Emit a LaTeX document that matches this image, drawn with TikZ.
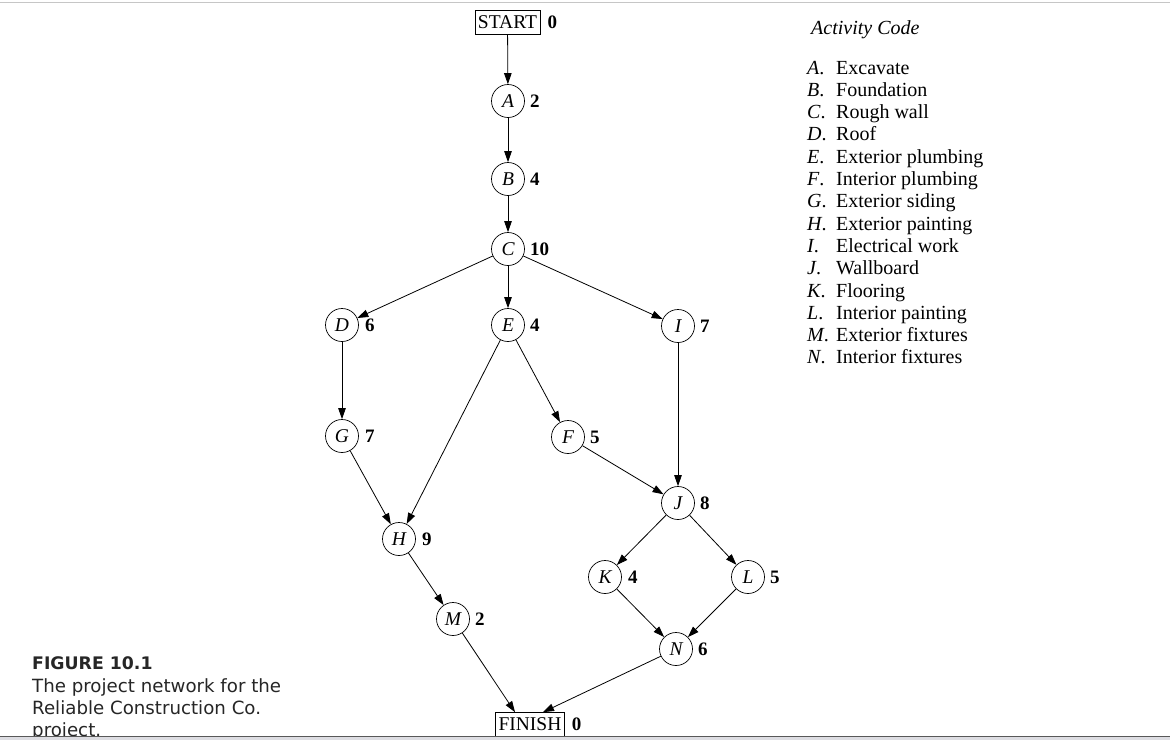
\documentclass[tikz,border=0pt]{standalone}
\usepackage{fontspec}
\setmainfont{Liberation Serif}
\newfontfamily\capfont{DejaVu Sans}
\usetikzlibrary{arrows.meta}
\begin{document}
\begin{tikzpicture}[x=1pt,y=-1pt,
  act/.style={circle, draw, line width=0.7pt, minimum size=33pt, inner sep=0pt,
    font=\fontsize{19.5}{19.5}\selectfont\itshape},
  term/.style={draw, line width=0.7pt, inner xsep=3pt, inner ysep=0pt, minimum height=24pt,
    font=\fontsize{19.5}{19.5}\selectfont},
  num/.style={font=\fontsize{19}{19}\selectfont\bfseries, inner sep=1pt},
  arr/.style={line width=0.8pt, -{Triangle[length=11pt,width=7.5pt]}},
  leg/.style={anchor=base west, inner sep=0pt, font=\fontsize{20}{20}\selectfont},
  legl/.style={leg, font=\fontsize{20}{20}\selectfont\itshape},
  captxt/.style={anchor=base west, inner sep=0pt, font=\capfont\fontsize{18.2}{18.2}\selectfont, text=black!85},
  every label/.style={num},
  label distance=4pt
]
\useasboundingbox (0,0) rectangle (1170,740);
\fill[white] (0,0) rectangle (1170,740);
\draw[gray!45, line width=1.5pt] (0,2.5) -- (1170,2.5);

% nodes
\node[term, label={[label distance=6pt]0:0}] (START) at (507.5,22.5) {START};
\node[act, label=0:2] (A) at (508,101) {A};
\node[act, label=0:4] (B) at (508,179) {B};
\node[act, label=0:10] (C) at (508,249) {C};
\node[act, label={[label distance=5pt]0:6}] (D) at (342,325) {D};
\node[act, label=0:4] (E) at (508,325) {E};
\node[act, label=0:7] (I) at (678,326) {I};
\node[act, label={[label distance=5pt]0:7}] (G) at (342,436) {G};
\node[act, label=0:5] (F) at (568,437) {F};
\node[act, label=0:8] (J) at (678,503) {J};
\node[act, label={[label distance=5pt]0:9}] (H) at (399,539) {H};
\node[act, label={[label distance=5pt]0:4}] (K) at (605,577) {K};
\node[act, label=0:5] (L) at (748,577) {L};
\node[act, label=0:2] (M) at (453,619) {M};
\node[act, label=0:6] (N) at (676,649) {N};
\node[term, label={[label distance=6pt]0:0}] (FINISH) at (530,724.5) {FINISH};

% connectors
\draw[arr] (START) -- (A);
\draw[arr] (A) -- (B);
\draw[arr] (B) -- (C);
\draw[arr] (C) -- (D);
\draw[arr] (C) -- (E);
\draw[arr] (C) -- (I);
\draw[arr] (D) -- (G);
\draw[arr] (E) -- (H);
\draw[arr] (E) -- (F);
\draw[arr] (I) -- (J);
\draw[arr] (G) -- (H);
\draw[arr] (F) -- (J);
\draw[arr] (H) -- (M);
\draw[arr] (J) -- (K);
\draw[arr] (J) -- (L);
\draw[arr] (K) -- (N);
\draw[arr] (L) -- (N);
\draw[arr] (M) -- ([xshift=-15pt]FINISH.north);
\draw[arr] (N) -- ([xshift=13pt]FINISH.north);

% legend
\node[legl] (lt) at (811,34) {Activity Code};
\foreach \l/\t [count=\i from 0] in {A/Excavate, B/Foundation, C/Rough wall, D/Roof,
  E/Exterior plumbing, F/Interior plumbing, G/Exterior siding, H/Exterior painting,
  I/Electrical work, J/Wallboard, K/Flooring, L/Interior painting,
  M/Exterior fixtures, N/Interior fixtures}{
  \node[legl] (ll\i) at (807,74+22.3*\i) {\l\upshape.};
  \node[leg] (lx\i) at (836,74+22.3*\i) {\t};
}

% caption
\node[captxt, font=\capfont\bfseries\fontsize{17.3}{17.3}\selectfont] (c0) at (32,669) {FIGURE\ 10.1};
\node[captxt] (c1) at (32,692) {The project network for the};
\node[captxt] (c2) at (32,714) {Reliable Construction Co.};
\node[captxt] (c3) at (32,736) {project.};

% bottom strip
\fill[blue!8!gray!25] (0,736) rectangle (1170,740);
\draw[gray!70!black, line width=0.8pt] (0,736) -- (1170,736);
\end{tikzpicture}
\end{document}
